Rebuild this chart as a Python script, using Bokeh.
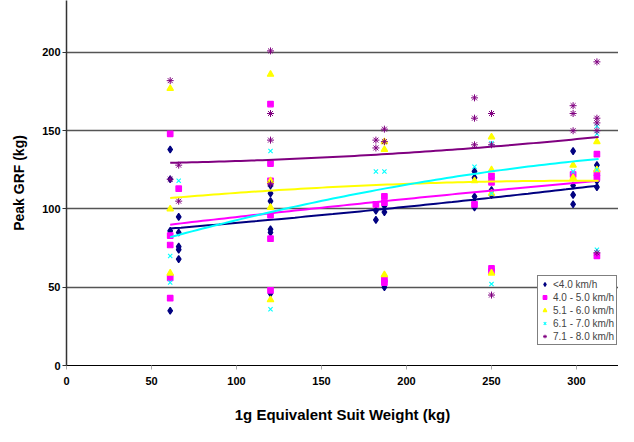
import numpy as np
from bokeh.plotting import figure
from bokeh.models import Range1d, FixedTicker, Legend, LegendItem
from bokeh.embed import file_html
from bokeh.resources import INLINE

# ---- data ----
series_labels = ["<4.0 km/h", "4.0 - 5.0 km/h", "5.1 - 6.0 km/h", "6.1 - 7.0 km/h", "7.1 - 8.0 km/h"]

navy_x = [61, 61, 61, 61, 66, 66, 66, 66, 66, 120, 120, 120, 120, 120, 120, 182, 182, 187, 187, 187,
          240, 240, 240, 240, 240, 250, 250, 250, 298, 298, 298, 298, 312, 312, 312]
navy_y = [138, 119, 86, 35, 95, 85, 76, 74, 68, 115, 110, 105, 87, 85, 46, 99, 93, 102, 98, 50,
          124, 120, 108, 104, 101, 120, 112, 109, 137, 115, 109, 103, 128, 118, 114]

magenta_x = [61, 61, 61, 61, 61, 66, 120, 120, 120, 120, 120, 120, 182, 187, 187, 187, 187,
             240, 250, 250, 250, 250, 298, 312, 312, 312, 312]
magenta_y = [148, 83, 77, 56, 43, 113, 167, 129, 118, 96, 81, 48, 103, 108, 104, 55, 53,
             103, 121, 117, 62, 60, 122, 135, 123, 120, 70]

yellow_x = [61, 61, 61, 120, 120, 120, 120, 187, 187, 187, 240, 250, 250, 250, 250, 298, 298, 312, 312]
yellow_y = [177, 100, 59, 186, 118, 101, 42, 143, 138, 58, 118, 146, 125, 110, 59, 128, 120, 143, 125]

cyan_x = [61, 61, 66, 120, 120, 182, 187, 240, 250, 250, 250, 298, 312, 312, 312, 312]
cyan_y = [70, 53, 118, 137, 36, 124, 124, 127, 142, 110, 52, 124, 153, 148, 125, 74]

purple_x = [61, 61, 66, 66, 120, 120, 120, 120, 182, 182, 187, 187, 240, 240, 240, 250, 250, 250,
            298, 298, 298, 312, 312, 312, 312, 312]
purple_y = [182, 119, 128, 105, 201, 161, 144, 116, 144, 139, 151, 143, 171, 158, 141, 161, 141, 45,
            166, 161, 150, 194, 158, 155, 150, 72]

# trend line values read at three suit weights
trend_x = [61, 187, 313]
navy_trend = [87.5, 100, 115]
magenta_trend = [90, 105, 118]
yellow_trend = [107, 115.5, 118]
cyan_trend = [82, 113, 132]
purple_trend = [129.5, 135, 146]

x_ticks = [0, 50, 100, 150, 200, 250, 300]
y_ticks = [0, 50, 100, 150, 200]
grid_ticks = [50, 100, 150, 200]

colors = ["#000080", "#FF00FF", "#FFFF00", "#00FFFF", "#800080"]
markers = ["diamond", "square", "triangle", "x", "asterisk"]
sizes = [7, 5.5, 6.5, 6, 7]
marker_widths = [1.2, 1.2, 1.2, 1.1, 1.0]

FONT = "Liberation Sans"

p = figure(width=618, height=426, x_range=Range1d(0, 324.7), y_range=Range1d(0, 233.2),
           output_backend="svg", toolbar_location=None,
           min_border_left=66, min_border_right=0, min_border_top=0, min_border_bottom=61)
p.outline_line_color = None
p.background_fill_color = "white"
p.border_fill_color = "white"

p.xgrid.visible = False
p.ygrid.ticker = FixedTicker(ticks=grid_ticks)
p.ygrid.grid_line_color = "#555555"
p.ygrid.grid_line_width = 1.5

for ax, ticks in ((p.xaxis[0], x_ticks), (p.yaxis[0], y_ticks)):
    ax.ticker = FixedTicker(ticks=ticks)
    ax.major_label_text_font = FONT
    ax.major_label_text_font_style = "bold"
    ax.major_label_text_font_size = "11px"
    ax.major_label_text_color = "black"
    ax.major_tick_out = 4
    ax.major_tick_in = 0
    ax.minor_tick_out = 0
    ax.minor_tick_in = 0
    ax.axis_label_text_font = FONT
    ax.axis_label_text_font_style = "bold"
    ax.axis_label_text_color = "black"

p.xaxis.axis_label = "1g Equivalent Suit Weight (kg)"
p.yaxis.axis_label = "Peak GRF (kg)"
p.xaxis.axis_label_text_font_size = "15px"
p.yaxis.axis_label_text_font_size = "14px"
p.xaxis.axis_line_color = "black"
p.xaxis.major_tick_line_color = "#aaaaaa"
p.yaxis.axis_line_color = "#333333"
p.yaxis.axis_line_width = 1.5
p.yaxis.major_tick_line_color = "#333333"
p.xaxis.major_label_standoff = 7
p.xaxis.axis_label_standoff = 18
p.yaxis.major_label_standoff = 2
p.yaxis.axis_label_standoff = 12

xs_all = [navy_x, magenta_x, yellow_x, cyan_x, purple_x]
ys_all = [navy_y, magenta_y, yellow_y, cyan_y, purple_y]
trends = [navy_trend, magenta_trend, yellow_trend, cyan_trend, purple_trend]

items = []
for xs, ys, c, m, s, lw, lab in zip(xs_all, ys_all, colors, markers, sizes, marker_widths, series_labels):
    r = p.scatter(xs, ys, marker=m, size=s, fill_color=c, line_color=c, line_width=lw)
    items.append(LegendItem(label=lab, renderers=[r]))

for tv, c in zip(trends, colors):
    coef = np.polyfit(trend_x, tv, 2)
    xx = np.linspace(trend_x[0], trend_x[-1], 80)
    p.line(xx, np.polyval(coef, xx), line_color=c, line_width=2)

legend = Legend(items=items, location=(471, 20))
legend.border_line_color = "black"
legend.border_line_width = 1
legend.background_fill_color = "white"
legend.background_fill_alpha = 1
legend.label_text_font = FONT
legend.label_text_font_size = "10px"
legend.glyph_width = 9
legend.glyph_height = 12
legend.label_height = 12
legend.spacing = 1
legend.padding = 2
legend.margin = 0
legend.label_standoff = 4
p.add_layout(legend, "center")

open("out.html", "w").write(file_html(p, INLINE))
